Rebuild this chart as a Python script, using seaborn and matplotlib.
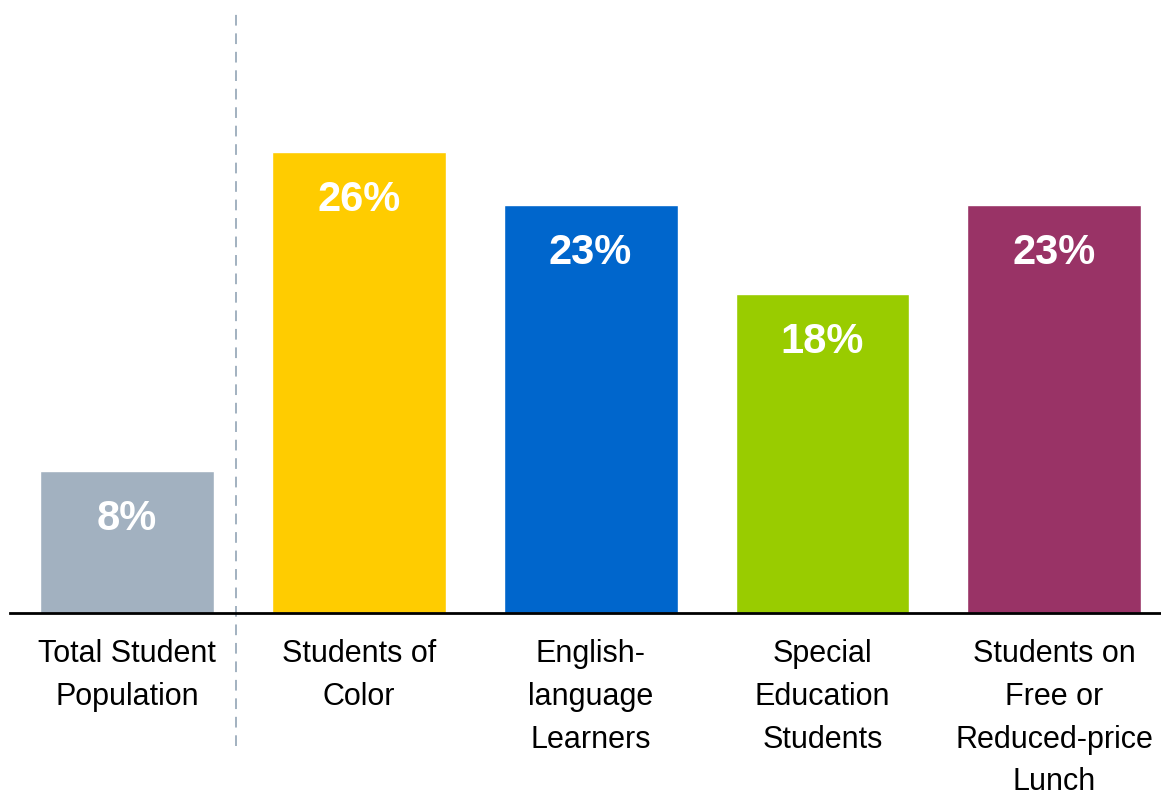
import matplotlib
matplotlib.use("Agg")
import matplotlib.pyplot as plt
import seaborn as sns
import pandas as pd

categories = [
    "Total Student\nPopulation",
    "Students of\nColor",
    "English-\nlanguage\nLearners",
    "Special\nEducation\nStudents",
    "Students on\nFree or\nReduced-price\nLunch",
]
values = [8, 26, 23, 18, 23]
colors = ["#A2B1C0", "#FFCC00", "#0066CC", "#99CC00", "#993366"]

sns.set_theme(style="white")
plt.rcParams["font.family"] = ["Liberation Sans", "DejaVu Sans"]

df = pd.DataFrame({"group": categories, "pct": values})

fig = plt.figure(figsize=(11.61, 7.98), dpi=100)
ax = fig.add_axes([10 / 1161, (798 - 613) / 798, 1 - 10 / 1161, 603 / 798])

sns.barplot(data=df, x="group", y="pct", hue="group", palette=colors,
            width=0.75, legend=False, ax=ax, saturation=1)

ax.set_xlim(-0.504, 4.46)
ax.set_ylim(0, 34.0)

for i, v in enumerate(values):
    ax.text(i, v - 2.7, f"{v}%", ha="center", va="center",
            color="white", fontsize=30, fontweight="bold")

# separator between the total and the subgroups
ax.axvline(0.47, ymin=-0.2206, ymax=1.0, color="#A2B1C0", lw=1.4,
           ls=(0, (5.5, 4)), clip_on=False)

for s in ["top", "right", "left"]:
    ax.spines[s].set_visible(False)
ax.spines["bottom"].set_color("black")
ax.spines["bottom"].set_linewidth(2)

ax.set_yticks([])
ax.set_xlabel("")
ax.set_ylabel("")
ax.tick_params(axis="x", length=0, pad=19, labelsize=22, labelcolor="black")
for lbl in ax.get_xticklabels():
    lbl.set_linespacing(1.55)

fig.savefig("out.png", dpi=100)
